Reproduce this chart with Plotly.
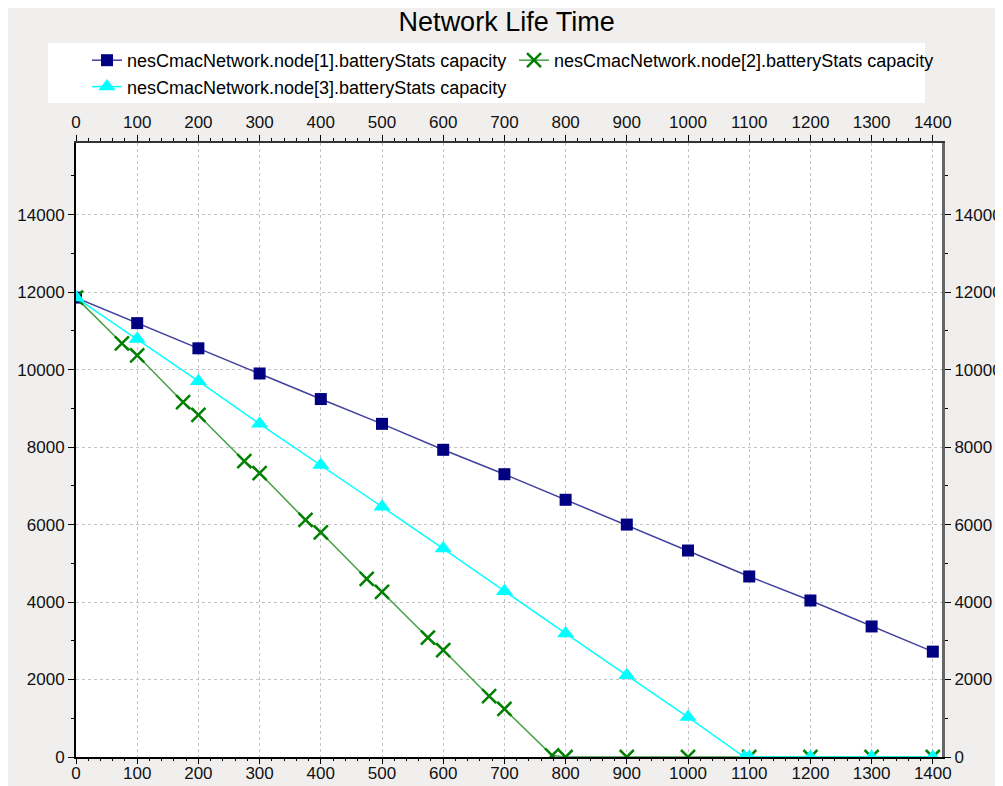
import plotly.graph_objects as go

# ---- data ----
node1_x = [0, 100, 200, 300, 400, 500, 600, 700, 800, 900, 1000, 1100, 1200, 1300, 1400]
node1_y = [11860, 11200, 10550, 9900, 9240, 8600, 7930, 7300, 6640, 6000, 5330, 4660, 4040, 3370, 2720]

node2_x = [0, 75, 100, 175, 200, 275, 300, 375, 400, 475, 500, 575, 600, 675, 700,
           778, 800, 900, 1000, 1100, 1200, 1300, 1400]
node2_y = [11860, 10680, 10370, 9160, 8830, 7640, 7330, 6120, 5800, 4600, 4260, 3080, 2760, 1570, 1240,
           40, 0, 0, 0, 0, 0, 0, 0]

node3_x = [0, 100, 200, 300, 400, 500, 600, 700, 800, 900, 1000, 1092, 1100, 1200, 1300, 1400]
node3_y = [11860, 10790, 9700, 8600, 7540, 6460, 5380, 4280, 3190, 2110, 1030, 0, 0, 0, 0, 0]

names = ["nesCmacNetwork.node[1].batteryStats capacity",
         "nesCmacNetwork.node[2].batteryStats capacity",
         "nesCmacNetwork.node[3].batteryStats capacity"]

x_ticks = list(range(0, 1401, 100))
y_ticks = list(range(0, 14001, 2000))
x_range = [0, 1415]
y_range = [0, 15850]

FONT = "Liberation Sans, Arial, sans-serif"

# figure sits at (8,8) in the page because of the body margin
W, H = 995, 778
ML, MT = 68, 135
PW, PH = 866, 614
MR = W - ML - PW
MB = H - MT - PH

def px_x(p):  # page px -> paper x
    return (p - 8 - ML) / PW

def px_y(p):  # page px -> paper y
    return (MT + PH - (p - 8)) / PH

fig = go.Figure()
fig.add_trace(go.Scatter(x=node1_x, y=node1_y, mode="lines+markers", name=names[0],
                         line=dict(color="rgba(0,0,128,0.75)", width=1.5),
                         marker=dict(symbol="square", size=12, color="#000080")))
fig.add_trace(go.Scatter(x=node2_x, y=node2_y, mode="lines+markers", name=names[1],
                         line=dict(color="rgba(0,128,0,0.75)", width=1.5),
                         marker=dict(symbol="x-thin", size=14, color="#008000",
                                     line=dict(color="#008000", width=2.5))))
fig.add_trace(go.Scatter(x=node3_x, y=node3_y, mode="lines+markers", name=names[2],
                         line=dict(color="#00ffff", width=1.5),
                         marker=dict(symbol="triangle-up", size=15, color="#00ffff")))
# dummy traces to activate the extra axes (top / right labels, bottom tick marks)
fig.add_trace(go.Scatter(x=[None], y=[None], xaxis="x2", yaxis="y2",
                         showlegend=False, hoverinfo="skip"))
fig.add_trace(go.Scatter(x=[None], y=[None], xaxis="x3", yaxis="y",
                         showlegend=False, hoverinfo="skip"))

tickfont = dict(family=FONT, size=17, color="#111")
axis_common = dict(ticks="outside", ticklen=6, tickwidth=1, tickcolor="#000",
                   tickfont=tickfont, showline=True, zeroline=False)
grid = dict(showgrid=True, gridcolor="#c4c4c4", griddash="3px,3px", gridwidth=1)
xminor = dict(ticks="outside", ticklen=3, dtick=20, tick0=0, tickcolor="#000", showgrid=False)
yminor = dict(ticks="outside", ticklen=3, dtick=1000, tick0=0, tickcolor="#000", showgrid=False)

fig.update_layout(
    width=W, height=H,
    paper_bgcolor="#f0efee", plot_bgcolor="#ffffff",
    margin=dict(l=ML, r=MR, t=MT, b=MB, autoexpand=False),
    title=dict(text="Network Life Time", x=px_x(510), xanchor="center",
               y=1 - 14 / H, yanchor="middle",
               font=dict(family=FONT, size=27, color="#000")),
    showlegend=True,
    legend=dict(orientation="h", x=px_x(87), xanchor="left", y=px_y(42), yanchor="top",
                bgcolor="rgba(0,0,0,0)", font=dict(family=FONT, size=18, color="#000"),
                itemwidth=30, entrywidth=382, entrywidthmode="pixels",
                tracegroupgap=0),
    shapes=[dict(type="rect", xref="paper", yref="paper",
                 x0=px_x(48), x1=px_x(925), y0=px_y(103), y1=px_y(43),
                 fillcolor="#ffffff", line=dict(width=0), layer="below")],
    # bottom axis: labels only (tick marks come from xaxis3)
    xaxis=dict(range=x_range, tickvals=x_ticks, ticktext=[str(v) for v in x_ticks],
               ticks="", tickfont=tickfont, showline=True, linecolor="#000", linewidth=2,
               zeroline=False, **grid),
    xaxis3=dict(range=x_range, tickvals=x_ticks, overlaying="x", side="bottom", anchor="y",
                showticklabels=False, ticks="outside", ticklen=6, tickwidth=1, tickcolor="#000",
                showline=False, zeroline=False, showgrid=False, minor=xminor),
    yaxis=dict(range=y_range, tickvals=y_ticks, ticktext=[str(v) for v in y_ticks],
               linecolor="#000", linewidth=2, minor=yminor, **grid, **axis_common),
    xaxis2=dict(range=x_range, tickvals=x_ticks, ticktext=[str(v) for v in x_ticks],
                overlaying="x", side="top", anchor="y", showgrid=False,
                linecolor="#333", linewidth=2, minor=xminor, **axis_common),
    yaxis2=dict(range=y_range, tickvals=y_ticks, ticktext=[str(v) for v in y_ticks],
                overlaying="y", side="right", anchor="x", showgrid=False,
                linecolor="#666", linewidth=3, minor=yminor, **axis_common),
)

fig.write_html("out.html")
